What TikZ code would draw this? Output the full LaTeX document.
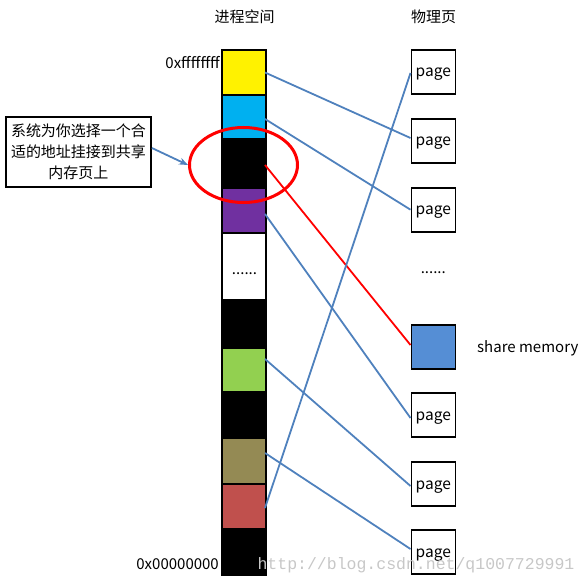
\documentclass[tikz,border=0pt]{standalone}
\usepackage{fontspec}
\setmainfont{Noto Sans CJK SC}
\newfontfamily\wmfont{Liberation Mono}
\usetikzlibrary{shapes.geometric,arrows.meta}
\definecolor{cyanblk}{HTML}{00B0F0}
\definecolor{purpblk}{HTML}{7030A0}
\definecolor{greenblk}{HTML}{92D050}
\definecolor{oliveblk}{HTML}{948A54}
\definecolor{redblk}{HTML}{C0504D}
\definecolor{linkblue}{HTML}{4F81BD}
\definecolor{sharefill}{HTML}{558ED5}
\tikzset{
  txt/.style={font=\fontsize{15}{21}\selectfont, inner sep=0pt},
  blk/.style={rectangle, minimum width=42pt, inner sep=0pt, outer sep=0pt},
  pg/.style={rectangle, draw=black, line width=1.6pt, minimum size=44pt, inner sep=0pt,
             text height=14pt, text depth=4pt, font=\fontsize{15.5}{21}\selectfont},
  link/.style={draw=linkblue, line width=1.8pt},
  redlink/.style={draw=red, line width=1.8pt},
}
\begin{document}
\begin{tikzpicture}[x=1pt,y=-1pt]
\useasboundingbox (0,0) rectangle (587,586);
% titles
\node[txt] (t1) at (244.5,17) {进程空间};
\node[txt] (t2) at (433.5,17) {物理页};
% column background
\fill[black] (221,49.5) rectangle (267,576);
% blocks
\node[blk, fill=yellow,   minimum height=43pt] (b1) at (244,72.5) {};
\node[blk, fill=cyanblk,  minimum height=42.5pt] (b2) at (244,117) {};
\node[blk, fill=black,    minimum height=47pt] (b3) at (244,163.5) {};
\node[blk, fill=purpblk,  minimum height=43pt] (b4) at (244,210.5) {};
\node[blk, fill=white,    minimum height=64.5pt] (b5) at (244,266.5) {};
\node[blk, fill=black,    minimum height=46pt] (b6) at (244,324) {};
\node[blk, fill=greenblk, minimum height=42.5pt] (b7) at (244,370) {};
\node[blk, fill=black,    minimum height=44pt] (b8) at (244,415) {};
\node[blk, fill=oliveblk, minimum height=43.5pt] (b9) at (244,461) {};
\node[blk, fill=redblk,   minimum height=43.5pt] (b10) at (244,506.5) {};
\node[blk, fill=black,    minimum height=45pt] (b11) at (244,552.5) {};
\node[txt] (dl) at (244.5,274) {......};
% address labels
\node[txt, anchor=east] (hi) at (220,62.5) {0xffffffff};
\node[txt, anchor=east] (lo) at (219,564.5) {0x00000000};
% pages
\node[pg] (p1) at (433.3,72) {page};
\node[pg] (p2) at (433.3,141) {page};
\node[pg] (p3) at (433.3,209.7) {page};
\node[txt] (dr) at (433.3,273) {......};
\node[pg, fill=sharefill] (sh) at (433.3,347) {};
\node[txt, anchor=west] (shl) at (477,348.5) {share memory};
\node[pg] (p4) at (433.3,415) {page};
\node[pg] (p5) at (433.3,484) {page};
\node[pg] (p6) at (433.3,552) {page};
% links
\draw[link] (b1.east) -- ([yshift=3pt]p2.west);
\draw[link] ([yshift=-2pt]b2.east) -- (p3.west);
\draw[redlink] ([yshift=-1.5pt]b3.east) -- ([yshift=2pt]sh.west);
\draw[link] ([yshift=-3.5pt]b4.east) -- ([yshift=-3pt]p4.west);
\draw[link] ([yshift=11pt]b7.east) -- ([yshift=-2pt]p5.west);
\draw[link] ([yshift=8pt]b9.east) -- ([yshift=3pt]p6.west);
\draw[link] ([yshift=-1.5pt]b10.east) -- ([yshift=-1pt]p1.west);
% ellipse and callout
\node[ellipse, draw=red, line width=3pt, minimum width=108pt, minimum height=75pt, inner sep=0pt] (ring) at (243.5,165) {};
\node[draw=black, line width=1.8pt, minimum width=145pt, minimum height=70pt, inner sep=0pt,
      align=center, font=\fontsize{15}{21}\selectfont] (note) at (78.5,152)
      {系统为你选择一个合\\适的地址挂接到共享\\内存页上};
\draw[link, -{Stealth[length=9pt,width=7pt]}] ([yshift=4pt]note.east) -- (ring.west);
% watermark
\node[inner sep=0pt, text=black!22, font=\wmfont\fontsize{16.5}{18}\selectfont] (wm) at (416,565) {http://blog.csdn.net/q1007729991};
\end{tikzpicture}
\end{document}
